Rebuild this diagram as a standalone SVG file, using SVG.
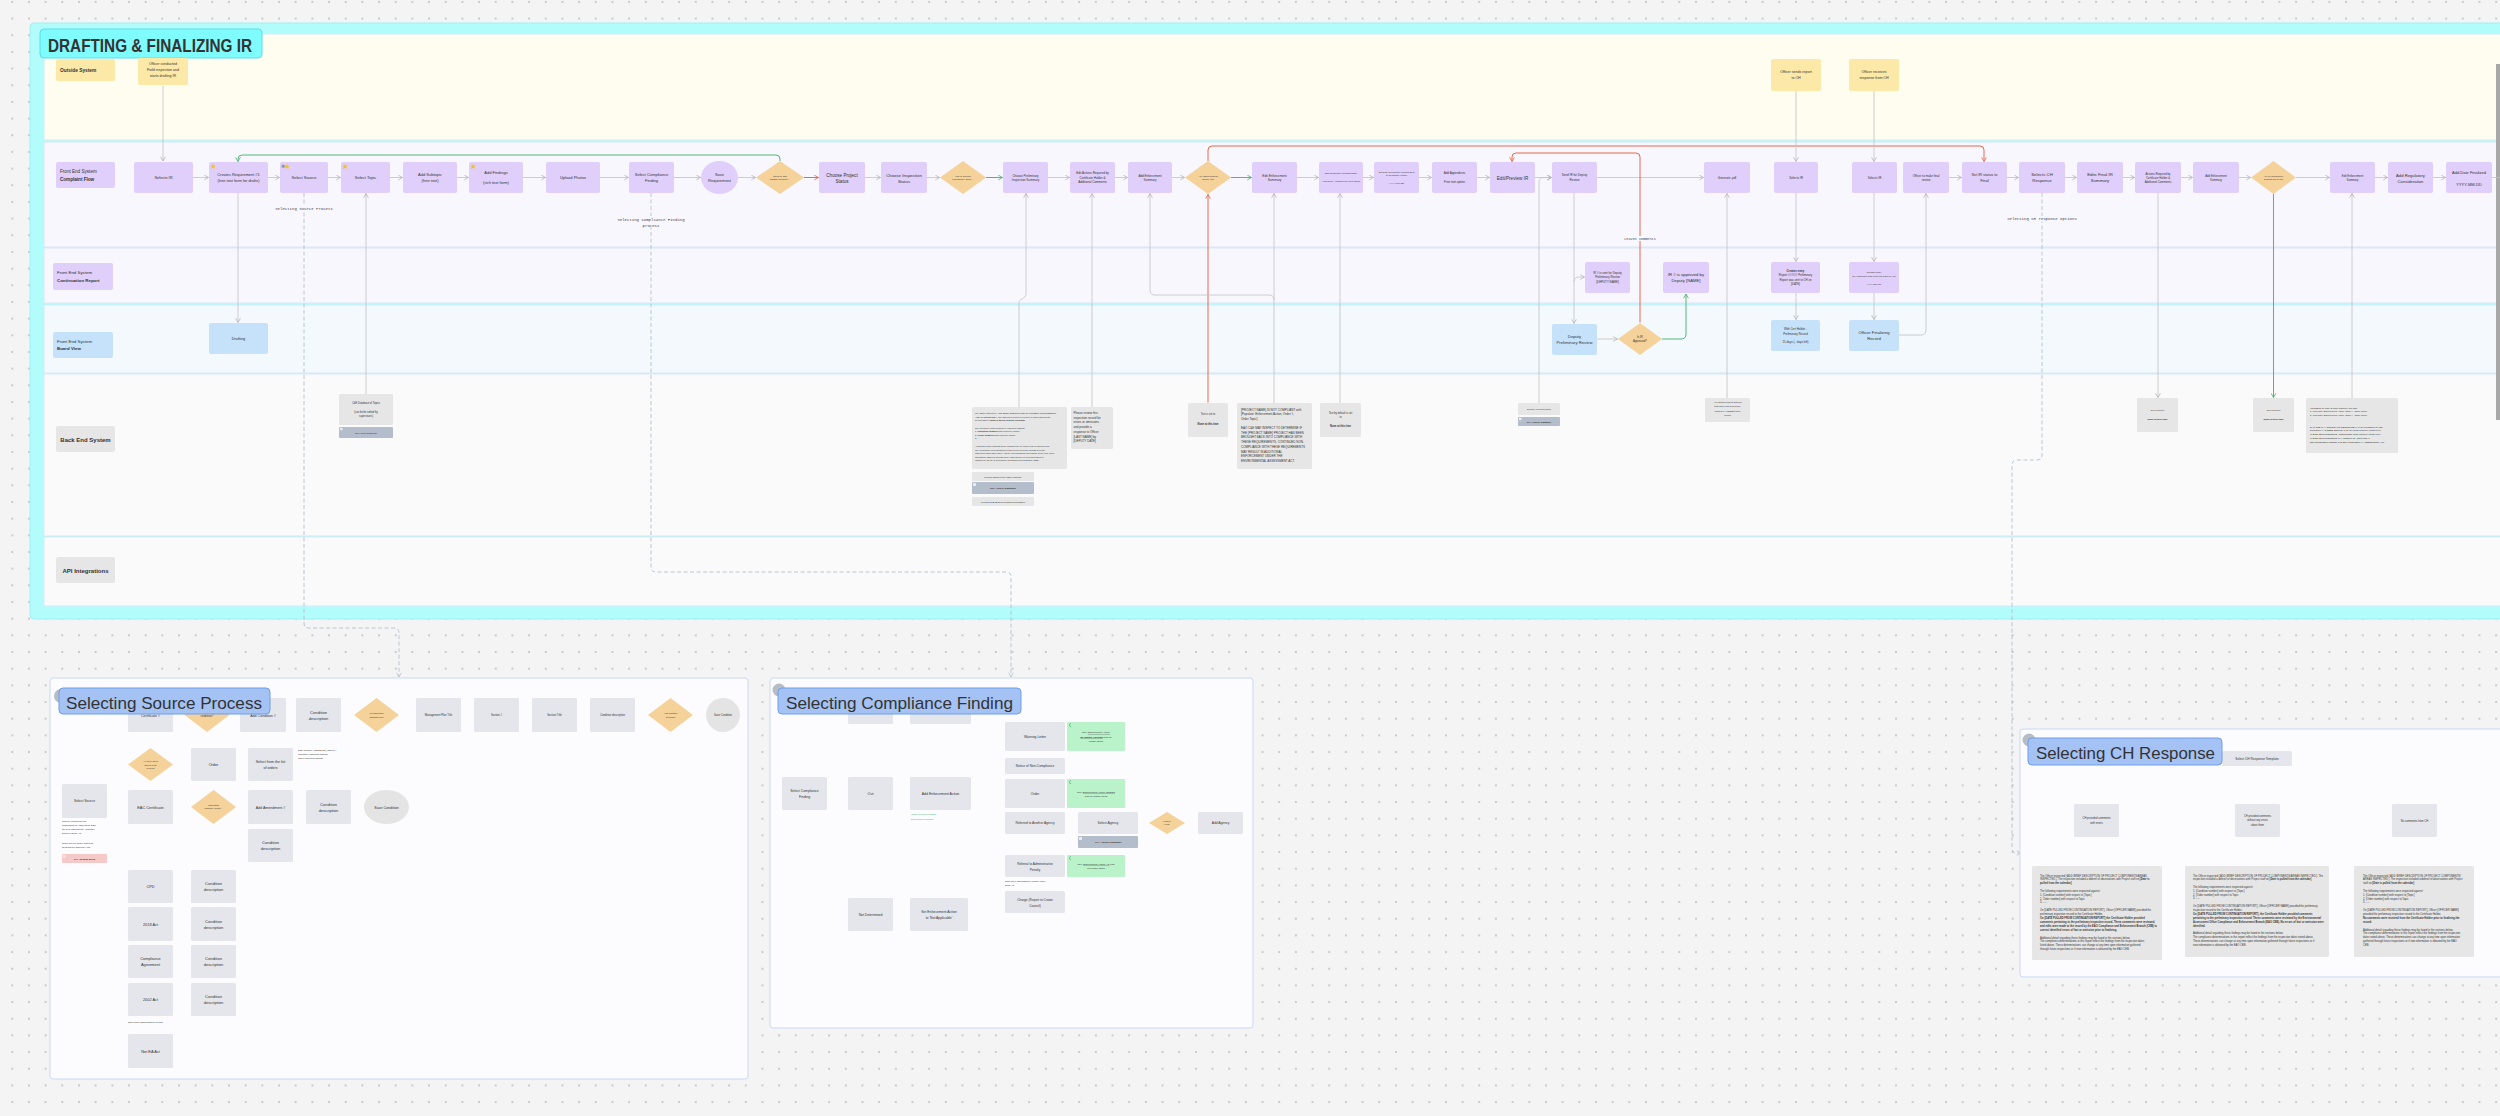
<svg xmlns="http://www.w3.org/2000/svg" width="2500" height="1116" viewBox="0 0 2500 1116">
<defs>
<pattern id="dots" x="11.3" y="0.9" width="16.67" height="16.67" patternUnits="userSpaceOnUse"><circle cx="1" cy="1" r="1" fill="#bdbdbd"/></pattern>
<marker id="a" viewBox="0 0 10 10" refX="9" refY="5" markerWidth="6" markerHeight="6" markerUnits="userSpaceOnUse" orient="auto"><path d="M2,1 L9,5 L2,9" fill="none" stroke="#b3b3b3" stroke-width="1.3"/></marker>
<marker id="ag" viewBox="0 0 10 10" refX="9" refY="5" markerWidth="6" markerHeight="6" markerUnits="userSpaceOnUse" orient="auto"><path d="M2,1 L9,5 L2,9" fill="none" stroke="#4fb874" stroke-width="1.4"/></marker>
<marker id="ar" viewBox="0 0 10 10" refX="9" refY="5" markerWidth="6" markerHeight="6" markerUnits="userSpaceOnUse" orient="auto"><path d="M2,1 L9,5 L2,9" fill="none" stroke="#e8694f" stroke-width="1.4"/></marker>
<marker id="ad" viewBox="0 0 10 10" refX="9" refY="5" markerWidth="6" markerHeight="6" markerUnits="userSpaceOnUse" orient="auto"><path d="M2,1 L9,5 L2,9" fill="none" stroke="#b4bfd3" stroke-width="1.3"/></marker>
<style>
text{font-family:"Liberation Sans",Arial,sans-serif;fill:#333}
.t{text-anchor:middle}
.m{font-family:"Liberation Mono","Courier New",monospace;text-anchor:middle;fill:#444}
.b{font-weight:bold}
.n{fill:#e0cffa}
.d{fill:#f6d29b}
.y{fill:#fce8a7}
.bl{fill:#c6e2fb}
.g{fill:#e6e6e6}
.p{fill:#e4e6ec}
.db{fill:#b3bdcc}
.gn{fill:#baf2c9}
.pk{fill:#f6c9c9}
.c{fill:none;stroke:#c2c2c2;stroke-width:0.8;marker-end:url(#a)}
.cn{fill:none;stroke:#c2c2c2;stroke-width:0.8}
.cg{fill:none;stroke:#52b877;stroke-width:1;marker-end:url(#ag)}
.cr{fill:none;stroke:#e8694f;stroke-width:1;marker-end:url(#ar)}
.cd{fill:none;stroke:#b4bfd3;stroke-width:0.9;stroke-dasharray:4 2.5;marker-end:url(#ad)}
.lane{stroke:#d6e9f6;stroke-width:1}
.panel{fill:#fcfcfe;stroke:#c9d8f6;stroke-width:1}
.ttl{fill:#a4c2f4;stroke:#6f9ee8;stroke-width:1}
.star{fill:#f3c21f}
</style>
</defs>

<rect width="2500" height="1116" fill="#f4f4f4"/>
<rect width="2500" height="1116" fill="url(#dots)"/>

<!-- main frame and lanes -->
<g id="frame">
<rect x="30" y="23" width="2490" height="596" rx="4" fill="#b3fcfc" stroke="#9ef0f3"/>
<rect class="lane" x="44" y="34" width="2470" height="106" fill="#fffdf0" stroke="#dff2e6"/>
<rect class="lane" x="44" y="142" width="2470" height="105" fill="#f9f7fe"/>
<rect class="lane" x="44" y="248" width="2470" height="55" fill="#f9f7fe"/>
<rect class="lane" x="44" y="305" width="2470" height="68" fill="#f4f9fe"/>
<rect class="lane" x="44" y="374" width="2470" height="162" fill="#fafafa" stroke="#dcf2f4"/>
<rect class="lane" x="44" y="537" width="2470" height="69" fill="#fafafa" stroke="#dcf2f4"/>
<rect x="2496" y="64" width="4" height="356" fill="#a8a8a8"/>
</g>

<g id="title-main">
<rect x="40" y="29" width="222" height="29" rx="4" fill="#7ffcfd" stroke="#58dfe9" stroke-width="1"/>
<text x="48" y="51.5" font-size="19" class="b" textLength="204" lengthAdjust="spacingAndGlyphs" fill="#111">DRAFTING &amp; FINALIZING IR</text>
</g>

<!-- lane labels -->
<g id="lane-outside"><rect class="y" x="56" y="59" width="59" height="22" rx="2"/><text x="60" y="71.5" font-size="4.8" class="b">Outside System</text></g>
<g id="lane-complaint"><rect class="n" x="56" y="162" width="59" height="26" rx="2"/><text x="60" y="173" font-size="4.6">Front  End System</text><text x="60" y="180.5" font-size="4.6" class="b">Complaint Flow</text></g>
<g id="lane-continuation"><rect class="n" x="53" y="263" width="60" height="27" rx="2"/><text x="57" y="274" font-size="4.4">Front End System</text><text x="57" y="281.5" font-size="4.4" class="b">Continuation Report</text></g>
<g id="lane-board"><rect class="bl" x="53" y="332" width="60" height="26" rx="2"/><text x="57" y="342.5" font-size="4.4">Front End System</text><text x="57" y="350" font-size="4.4" class="b">Board View</text></g>
<g id="lane-backend"><rect class="g" x="56" y="426" width="59" height="26" rx="2"/><text x="85.5" y="441.5" font-size="6" class="t b">Back End System</text></g>
<g id="lane-api"><rect class="g" x="56" y="557" width="59" height="26" rx="2"/><text x="85.5" y="572.5" font-size="6" class="t b">API Integrations</text></g>

<!-- connectors -->
<g id="connectors">
<path class="c" d="M163,86 V161"/>
<path class="c" d="M193,177.5 H208.5"/>
<path class="c" d="M268,177.5 H279.5"/>
<path class="c" d="M328,177.5 H340.5"/>
<path class="c" d="M390,177.5 H402.5"/>
<path class="c" d="M457,177.5 H468.5"/>
<path class="c" d="M523,177.5 H545.5"/>
<path class="c" d="M600,177.5 H628.5"/>
<path class="c" d="M674,177.5 H700.5"/>
<path class="c" d="M738,177.5 H755.5"/>
<path class="cr" d="M804,177.5 H818.5"/>
<path class="c" d="M865,177.5 H880.5"/>
<path class="c" d="M927,177.5 H939.5"/>
<path class="cg" d="M986,177.5 H1002.5"/>
<path class="c" d="M1048,177.5 H1069.5"/>
<path class="c" d="M1115,177.5 H1127.5"/>
<path class="c" d="M1172,177.5 H1184.5"/>
<path class="cg" d="M1231,177.5 H1251.5"/>
<path class="c" d="M1297,177.5 H1318.5"/>
<path class="c" d="M1363,177.5 H1373.5"/>
<path class="c" d="M1419,177.5 H1431.5"/>
<path class="c" d="M1477,177.5 H1489.5"/>
<path class="c" d="M1535,177.5 H1551.5"/>
<path class="c" d="M1597,177.5 H1703.5"/>
<path class="c" d="M1949,177.5 H1961.5"/>
<path class="c" d="M2007,177.5 H2018.5"/>
<path class="c" d="M2065,177.5 H2076.5"/>
<path class="c" d="M2123,177.5 H2134.5"/>
<path class="c" d="M2181,177.5 H2192.5"/>
<path class="c" d="M2239,177.5 H2250.5"/>
<path class="c" d="M2296,177.5 H2329.5"/>
<path class="c" d="M2375,177.5 H2387.5"/>
<path class="c" d="M2433,177.5 H2445.5"/>
<path class="cn" d="M2492,177.5 H2500"/>
<path class="cg" d="M780,161 V159 Q780,155 776,155 H242 Q238,155 238,159 V161.5"/>
<path class="cr" d="M1208,161 V150 Q1208,146 1212,146 H1980 Q1984,146 1984,150 V161.5"/>
<path class="cr" d="M1640,322.5 V157 Q1640,153 1636,153 H1516 Q1512,153 1512,157 V161.5"/>
<path class="cr" d="M1208,402.5 V194.5"/>
<path class="c" d="M238,193 V322.5"/>
<path class="c" d="M366,394 V193.5"/>
<path class="c" d="M1019,407 V303 C1019,298 1026,299 1026,294 V193.5"/>
<path class="c" d="M1092,407 V193.5"/>
<path class="c" d="M1274,403 V193.5"/>
<path class="c" d="M1274,300 Q1274,295 1269,295 H1155 Q1150,295 1150,290 V193.5"/>
<path class="c" d="M1340,403 V193.5"/>
<path class="c" d="M1539,403 V182 Q1539,177.5 1544,177.5 H1551.5"/>
<path class="c" d="M1574,193 V323.5"/>
<path class="c" d="M1574,282 Q1574,277 1579,277 H1584.5"/>
<path class="cg" d="M1662,339 H1681 Q1686,339 1686,334 V294"/>
<path class="c" d="M1597,339 H1617.5"/>
<path class="c" d="M1727,398 V193.5"/>
<path class="c" d="M1796,91 V161.5"/>
<path class="c" d="M1874,91 V161.5"/>
<path class="c" d="M1796,193 V261.5"/>
<path class="c" d="M1796,293 V319.5"/>
<path class="c" d="M1874,193 V261.5"/>
<path class="c" d="M1874,293 V319.5"/>
<path class="c" d="M1899,335 H1921 Q1926,335 1926,330 V193.5"/>
<path class="c" d="M2158,193 V397.5"/>
<path class="cg" d="M2273.5,194 V397.5"/>
<path class="c" d="M2352,398 V193.5"/>
<path class="cd" d="M304,193 V623 Q304,628 309,628 H394 Q399,628 399,633 V677"/>
<path class="cd" d="M651,193 V567 Q651,572 656,572 H1006 Q1011,572 1011,577 V677"/>
<path class="cd" d="M2042,193 V455 Q2042,460 2037,460 H2017 Q2012,460 2012,465 V848 Q2012,853 2017,853 H2021"/>
<!-- source panel -->
<path class="cn" d="M107,801 H118"/>
<path class="cn" d="M118,720 V1046"/>
<path class="c" d="M118,720 Q118,715 123,715 H127.5"/>
<path class="c" d="M118,769.5 Q118,764.5 123,764.5 H127.5"/>
<path class="c" d="M118,802 Q118,807 123,807 H127.5"/>
<path class="c" d="M118,881.5 Q118,886.5 123,886.5 H127.5"/>
<path class="c" d="M118,919 Q118,924 123,924 H127.5"/>
<path class="c" d="M118,956.5 Q118,961.5 123,961.5 H127.5"/>
<path class="c" d="M118,994.5 Q118,999.5 123,999.5 H127.5"/>
<path class="c" d="M118,1046 Q118,1051 123,1051 H127.5"/>
<path class="c" d="M173,715 H184.5"/>
<path class="cr" d="M229.5,715 H239.5"/>
<path class="c" d="M286,715 H295.5"/>
<path class="c" d="M341,715 H353.5"/>
<path class="cg" d="M399,715 H415.5"/>
<path class="c" d="M461,715 H473.5"/>
<path class="c" d="M519,715 H531.5"/>
<path class="c" d="M577,715 H589.5"/>
<path class="c" d="M635,715 H647.5"/>
<path class="cr" d="M693,715 H705.5"/>
<path class="cr" d="M376.5,698 V688 Q376.5,683 381.5,683 H718 Q723,683 723,688 V697.5"/>
<path class="cg" d="M670.5,698 V694 Q670.5,689 665.5,689 H501.5 Q496.5,689 496.5,694 V697.5"/>
<path class="cg" d="M173,764.5 H190.5"/>
<path class="c" d="M236,764.5 H247.5"/>
<path class="c" d="M173,807 H190.5"/>
<path class="cg" d="M236,807 H247.5"/>
<path class="c" d="M293,807 H305.5"/>
<path class="c" d="M351,807 H363.5"/>
<path class="cr" d="M213.5,824 V840.5 Q213.5,845.5 218.5,845.5 H247.5"/>
<path class="c" d="M293,845.5 H381.5 Q386.5,845.5 386.5,840.5 V824.5"/>
<path class="c" d="M173,886.5 H190.5"/>
<path class="c" d="M173,924 H190.5"/>
<path class="c" d="M173,961.5 H190.5"/>
<path class="c" d="M173,999.5 H190.5"/>
<!-- compliance panel -->
<path class="cn" d="M827,793.5 H837"/>
<path class="cn" d="M837,716 V909"/>
<path class="c" d="M837,717 Q837,712 842,712 H847.5"/>
<path class="c" d="M837,788.5 Q837,793.5 842,793.5 H847.5"/>
<path class="c" d="M837,909.5 Q837,914.5 842,914.5 H847.5"/>
<path class="c" d="M893,712 H909.5"/>
<path class="c" d="M893,793.5 H909.5"/>
<path class="c" d="M893,914.5 H909.5"/>
<path class="cn" d="M971,793.5 H988"/>
<path class="cn" d="M988,741.5 V897"/>
<path class="c" d="M988,741.5 Q988,736.5 993,736.5 H1004.5"/>
<path class="c" d="M988,771 Q988,766 993,766 H1004.5"/>
<path class="c" d="M988,793.5 H1004.5"/>
<path class="c" d="M988,818 Q988,823 993,823 H1004.5"/>
<path class="c" d="M988,861 Q988,866 993,866 H1004.5"/>
<path class="c" d="M988,897 Q988,902 993,902 H1004.5"/>
<path class="c" d="M1065,823 H1077.5"/>
<path class="c" d="M1138,823 H1148.5"/>
<path class="cr" d="M1185,823 H1197.5"/>
<!-- CH panel -->
<path class="c" d="M2257,766 V803.5"/>
<path class="c" d="M2257,781 Q2257,785 2253,785 H2101 Q2097,785 2097,789 V803.5"/>
<path class="c" d="M2257,781 Q2257,785 2261,785 H2410 Q2414,785 2414,789 V803.5"/>
<path class="c" d="M2097,866 V837.5" stroke="#dadada"/>
<path class="c" d="M2257,866 V837.5" stroke="#dadada"/>
<path class="c" d="M2414,866 V837.5" stroke="#dadada"/>
</g>

<!-- connector labels -->
<g id="connector-labels">
<rect x="273" y="205.5" width="62" height="5.5" fill="#f9f7fe"/>
<text x="304" y="209.7" font-size="4" class="m">Selecting Source Process</text>
<rect x="615" y="216" width="72" height="11.5" fill="#f9f7fe"/>
<text x="651" y="220.5" font-size="4" class="m">Selecting Compliance Finding</text>
<text x="651" y="226.5" font-size="4" class="m">process</text>
<rect x="2005" y="216" width="74" height="5.5" fill="#f9f7fe"/>
<text x="2042" y="220.3" font-size="4" class="m">Selecting CH response options</text>
<rect x="1620" y="236" width="40" height="5" fill="#f9f7fe"/>
<text x="1640" y="240" font-size="3.5" class="m">Leaves Comments</text>
</g>

<!-- Outside system nodes -->
<g id="o1"><rect class="y" x="138" y="58" width="50" height="27" rx="2"/><text class="t" font-size="3.6" x="163"><tspan x="163" y="64.5">Officer conducted</tspan><tspan x="163" y="70.5">Field inspection and</tspan><tspan x="163" y="76.5">starts drafting IR</tspan></text></g>
<g id="o2"><rect class="y" x="1771" y="59" width="50" height="32" rx="2"/><text class="t" font-size="3.6"><tspan x="1796" y="73">Officer sends report</tspan><tspan x="1796" y="79">to CH</tspan></text></g>
<g id="o3"><rect class="y" x="1849" y="59" width="50" height="32" rx="2"/><text class="t" font-size="3.6"><tspan x="1874" y="73">Officer receives</tspan><tspan x="1874" y="79">response from CH</tspan></text></g>

<!-- Complaint flow row -->
<g id="n1"><rect class="n" x="134" y="162" width="59" height="31" rx="2"/><text class="t" font-size="4" x="163.5" y="179">Selects IR</text></g>
<g id="n2"><rect class="n" x="209" y="162" width="59" height="31" rx="2"/><polygon class="star" points="213,163.5 213.8,165.4 215.8,165.5 214.3,166.8 214.8,168.8 213,167.7 211.2,168.8 211.7,166.8 210.2,165.5 212.2,165.4"/><text class="t" font-size="3.9"><tspan x="238.5" y="176">Creates Requirement #1</tspan><tspan x="238.5" y="181.5">(free text form for drafts)</tspan></text></g>
<g id="n3"><rect class="n" x="280" y="162" width="48" height="31" rx="2"/><circle cx="283.3" cy="166.2" r="1.8" fill="#9a9a9a"/><polygon class="star" points="287,163.5 287.8,165.4 289.8,165.5 288.3,166.8 288.8,168.8 287,167.7 285.2,168.8 285.7,166.8 284.2,165.5 286.2,165.4"/><text class="t" font-size="4" x="304" y="179">Select Source</text></g>
<g id="n4"><rect class="n" x="341" y="162" width="49" height="31" rx="2"/><polygon class="star" points="345,163.5 345.8,165.4 347.8,165.5 346.3,166.8 346.8,168.8 345,167.7 343.2,168.8 343.7,166.8 342.2,165.5 344.2,165.4"/><text class="t" font-size="4" x="365.5" y="179">Select Topic</text></g>
<g id="n5"><rect class="n" x="403" y="162" width="54" height="31" rx="2"/><text class="t" font-size="4"><tspan x="430" y="176">Add Subtopic</tspan><tspan x="430" y="182">(free text)</tspan></text></g>
<g id="n6"><rect class="n" x="469" y="162" width="54" height="31" rx="2"/><polygon class="star" points="473,163.5 473.8,165.4 475.8,165.5 474.3,166.8 474.8,168.8 473,167.7 471.2,168.8 471.7,166.8 470.2,165.5 472.2,165.4"/><text class="t" font-size="4"><tspan x="496" y="174">Add Findings</tspan><tspan x="496" y="183.5">(rich text form)</tspan></text></g>
<g id="n7"><rect class="n" x="546" y="162" width="54" height="31" rx="2"/><text class="t" font-size="4" x="573" y="179">Upload Photos</text></g>
<g id="n8"><rect class="n" x="629" y="162" width="45" height="31" rx="2"/><text class="t" font-size="4"><tspan x="651.5" y="176">Select Compliance</tspan><tspan x="651.5" y="182">Finding</tspan></text></g>
<g id="n9"><ellipse class="n" cx="719.5" cy="177.5" rx="18.5" ry="16.5"/><text class="t" font-size="4"><tspan x="719.5" y="176">Save</tspan><tspan x="719.5" y="182">Requirement</tspan></text></g>
<g id="n10"><polygon class="d" points="780,161 804,177.5 780,194 756,177.5"/><text class="t" font-size="2.5"><tspan x="780" y="176.5">Need to add</tspan><tspan x="780" y="180">another Require…</tspan></text></g>
<g id="n11"><rect class="n" x="819" y="162" width="46" height="31" rx="2"/><text class="t" font-size="4.6"><tspan x="842" y="176.5">Choose Project</tspan><tspan x="842" y="182.5">Status</tspan></text></g>
<g id="n12"><rect class="n" x="881" y="162" width="46" height="31" rx="2"/><text class="t" font-size="4.3"><tspan x="904" y="176.5">Choose Inspection</tspan><tspan x="904" y="182.5">Status</tspan></text></g>
<g id="n13"><polygon class="d" points="963,161 986,177.5 963,194 940,177.5"/><text class="t" font-size="2.5"><tspan x="963" y="176.5">List of Recent</tspan><tspan x="963" y="180">Preliminary Reco…</tspan></text></g>
<g id="n14"><rect class="n" x="1003" y="162" width="45" height="31" rx="2"/><text class="t" font-size="3"><tspan x="1025.5" y="176.5">Choose Preliminary</tspan><tspan x="1025.5" y="180.5">Inspection Summary</tspan></text></g>
<g id="n15"><rect class="n" x="1070" y="162" width="45" height="31" rx="2"/><text class="t" font-size="3"><tspan x="1092.5" y="174">Edit Actions Required by</tspan><tspan x="1092.5" y="178.5">Certificate Holder &amp;</tspan><tspan x="1092.5" y="183">Additional Comments</tspan></text></g>
<g id="n16"><rect class="n" x="1128" y="162" width="44" height="31" rx="2"/><text class="t" font-size="3"><tspan x="1150" y="176.5">Add Enforcement</tspan><tspan x="1150" y="180.5">Summary</tspan></text></g>
<g id="n17"><polygon class="d" points="1208,161 1231,177.5 1208,194 1185,177.5"/><text class="t" font-size="2.5"><tspan x="1208" y="176.5">Any Enforcement</tspan><tspan x="1208" y="180">before IR?</tspan></text></g>
<g id="n18"><rect class="n" x="1252" y="162" width="45" height="31" rx="2"/><text class="t" font-size="3.2"><tspan x="1274.5" y="176.5">Edit Enforcement</tspan><tspan x="1274.5" y="181">Summary</tspan></text></g>
<g id="n19"><rect class="n" x="1319" y="162" width="44" height="31" rx="2"/><text class="t" font-size="2.4"><tspan x="1341" y="174">Edit Regulatory Consideration</tspan><tspan x="1341" y="181.5">Auto-build + optional free text option</tspan></text></g>
<g id="n20"><rect class="n" x="1374" y="162" width="45" height="31" rx="2"/><text class="t" font-size="2.4"><tspan x="1396.5" y="172.5">Set Date Preliminary Record Sent</tspan><tspan x="1396.5" y="176">to Certificate Holder</tspan><tspan x="1396.5" y="183.5">YYYY-MM-DD</tspan></text></g>
<g id="n21"><rect class="n" x="1432" y="162" width="45" height="31" rx="2"/><text class="t" font-size="3"><tspan x="1454.5" y="174">Add Appendices</tspan><tspan x="1454.5" y="183">Free text option</tspan></text></g>
<g id="n22"><rect class="n" x="1490" y="162" width="45" height="31" rx="2"/><text class="t" font-size="4.6" x="1512.5" y="179.5">Edit/Preview IR</text></g>
<g id="n23"><rect class="n" x="1552" y="162" width="45" height="31" rx="2"/><text class="t" font-size="3"><tspan x="1574.5" y="176">Send IR for Deputy</tspan><tspan x="1574.5" y="180.5">Review</tspan></text></g>
<g id="n24"><rect class="n" x="1704" y="162" width="46" height="31" rx="2"/><text class="t" font-size="3" x="1727" y="178.5">Generate .pdf</text></g>
<g id="n25"><rect class="n" x="1774" y="162" width="44" height="31" rx="2"/><text class="t" font-size="3" x="1796" y="178.5">Selects IR</text></g>
<g id="n26"><rect class="n" x="1852" y="162" width="45" height="31" rx="2"/><text class="t" font-size="3" x="1874.5" y="178.5">Selects IR</text></g>
<g id="n27"><rect class="n" x="1903" y="162" width="46" height="31" rx="2"/><text class="t" font-size="3"><tspan x="1926" y="176.5">Officer to make final</tspan><tspan x="1926" y="180.5">review</tspan></text></g>
<g id="n28"><rect class="n" x="1962" y="162" width="45" height="31" rx="2"/><text class="t" font-size="3.8"><tspan x="1984.5" y="176">Set IR status to</tspan><tspan x="1984.5" y="181.5">'Final'</tspan></text></g>
<g id="n29"><rect class="n" x="2019" y="162" width="46" height="31" rx="2"/><text class="t" font-size="4.3"><tspan x="2042" y="176">Selects CH</tspan><tspan x="2042" y="182">Response</tspan></text></g>
<g id="n30"><rect class="n" x="2077" y="162" width="46" height="31" rx="2"/><text class="t" font-size="4.3"><tspan x="2100" y="176">Edits Final IR</tspan><tspan x="2100" y="182">Summary</tspan></text></g>
<g id="n31"><rect class="n" x="2135" y="162" width="46" height="31" rx="2"/><text class="t" font-size="2.8"><tspan x="2158" y="174.5">Actions Required by</tspan><tspan x="2158" y="178.5">Certificate Holder &amp;</tspan><tspan x="2158" y="182.5">Additional Comments</tspan></text></g>
<g id="n32"><rect class="n" x="2193" y="162" width="46" height="31" rx="2"/><text class="t" font-size="2.8"><tspan x="2216" y="176.5">Add Enforcement</tspan><tspan x="2216" y="180.5">Summary</tspan></text></g>
<g id="n33"><polygon class="d" points="2273.5,161 2296,177.5 2273.5,194 2251,177.5"/><text class="t" font-size="2.4"><tspan x="2273.5" y="176.5">Are all compliance</tspan><tspan x="2273.5" y="180">findings set to IN?</tspan></text></g>
<g id="n34"><rect class="n" x="2330" y="162" width="45" height="31" rx="2"/><text class="t" font-size="2.8"><tspan x="2352.5" y="176.5">Edit Enforcement</tspan><tspan x="2352.5" y="180.5">Summary</tspan></text></g>
<g id="n35"><rect class="n" x="2388" y="162" width="45" height="31" rx="2"/><text class="t" font-size="4.2"><tspan x="2410.5" y="176.5">Add Regulatory</tspan><tspan x="2410.5" y="182.5">Consideration</tspan></text></g>
<g id="n36"><rect class="n" x="2446" y="162" width="46" height="31" rx="2"/><text class="t" font-size="4"><tspan x="2469" y="173.5">Add Date Finalized</tspan><tspan x="2469" y="185.5">YYYY-MM-DD</tspan></text></g>

<!-- Continuation report lane -->
<g id="c1"><rect class="n" x="1585" y="262" width="45" height="31" rx="2"/><text class="t" font-size="2.9"><tspan x="1607.5" y="273.5">IR # is sent for Deputy</tspan><tspan x="1607.5" y="278">Preliminary Review</tspan><tspan x="1607.5" y="282.5">[DEPUTY NAME]</tspan></text></g>
<g id="c2"><rect class="n" x="1663" y="262" width="46" height="31" rx="2"/><text class="t" font-size="4.2"><tspan x="1686" y="276">IR # is approved by</tspan><tspan x="1686" y="282">Deputy [NAME]</tspan></text></g>
<g id="c3"><rect class="n" x="1771" y="262" width="49" height="31" rx="2"/><text class="t" font-size="2.8"><tspan x="1795.5" y="271.5" class="b">Creates entry</tspan><tspan x="1795.5" y="276">Report ###### Preliminary</tspan><tspan x="1795.5" y="280.5">Report was sent to CH on</tspan><tspan x="1795.5" y="285">[DATE]</tspan></text></g>
<g id="c4"><rect class="n" x="1849" y="262" width="50" height="31" rx="2"/><text class="t" font-size="2.5"><tspan x="1874" y="272.5">Creates entry</tspan><tspan x="1874" y="276.5">CH response was received from CH on</tspan><tspan x="1874" y="284.5">yyyy-mm-dd</tspan></text></g>

<!-- Board view lane -->
<g id="b1"><rect class="bl" x="209" y="323" width="59" height="31" rx="2"/><text class="t" font-size="3.8" x="238.5" y="340">Drafting</text></g>
<g id="b2"><rect class="bl" x="1552" y="324" width="45" height="31" rx="2"/><text class="t" font-size="4.2"><tspan x="1574.5" y="337.5">Deputy</tspan><tspan x="1574.5" y="343.5">Preliminary Review</tspan></text></g>
<g id="b3"><polygon class="d" points="1640,323 1662,339 1640,355 1618,339"/><text class="t" font-size="2.9"><tspan x="1640" y="338">Is IR</tspan><tspan x="1640" y="342">Approved?</tspan></text></g>
<g id="b4"><rect class="bl" x="1771" y="320" width="49" height="31" rx="2"/><text class="t" font-size="2.9"><tspan x="1795.5" y="330">With Cert Holder -</tspan><tspan x="1795.5" y="334.5">Preliminary Record</tspan><tspan x="1795.5" y="343">15 days (.. days left)</tspan></text></g>
<g id="b5"><rect class="bl" x="1849" y="320" width="50" height="31" rx="2"/><text class="t" font-size="4.2"><tspan x="1874" y="334">Officer Finalizing</tspan><tspan x="1874" y="340">Record</tspan></text></g>

<!-- Back end lane -->
<g id="be1"><rect class="g" x="339" y="394" width="54" height="31" rx="1.5"/><text class="t" font-size="2.6"><tspan x="366" y="404">C&amp;E Database of Topics</tspan><tspan x="366" y="412.5">(can be be edited by</tspan><tspan x="366" y="416.5">supervisors)</tspan></text><rect class="db" x="339" y="427" width="54" height="11" rx="1"/><rect x="340" y="427.8" width="2.5" height="2.5" fill="#e8ecf2"/><text class="t" font-size="2.4" x="366" y="433.5">See: Topic Database</text></g>
<g id="be2"><rect class="g" x="972" y="407" width="95" height="62" rx="1.5"/><text font-size="2.2"><tspan x="975" y="414">The Officer inspected [ ADD BRIEF DESCRIPTION OF PROJECT COMPONENTS/</tspan><tspan x="975" y="417.6">AREAS INSPECTED ]. The inspection included a debrief of observations with</tspan><tspan x="975" y="421.2">Project staff on <tspan class="b">[Date is pulled from the calendar]</tspan>.</tspan><tspan x="975" y="428.5">The following requirements were inspected against:</tspan><tspan x="975" y="432.1">1. <tspan class="b">[Condition number]</tspan> with respect to [Topic]</tspan><tspan x="975" y="435.7">2. <tspan class="b">[Order number]</tspan> with respect to [Topic]</tspan><tspan x="975" y="439.3">3. ...</tspan><tspan x="975" y="447">Additional detail regarding these findings may be found in the sections below.</tspan><tspan x="975" y="450.6">The compliance determinations in this report reflect the findings from the</tspan><tspan x="975" y="454.2">inspection dates listed above. These determinations can change at any time upon</tspan><tspan x="975" y="457.8">information gathered through future inspections or if new information is</tspan><tspan x="975" y="461.4">obtained by the EAO Compliance and Enforcement Branch (CEB).</tspan></text>
<rect class="g" x="972" y="472" width="62" height="9" rx="1"/><text class="t" font-size="2.5" x="1003" y="477.5">Pulling Officer's full name and title</text>
<rect class="db" x="972" y="482" width="62" height="12" rx="1"/><rect x="973" y="483" width="3" height="3" fill="#e8ecf2"/><text class="t b" font-size="2.5" x="1003" y="489">See: Officer Database</text>
<rect class="g" x="972" y="497" width="62" height="9" rx="1"/><text class="t" font-size="2.5" x="1003" y="502.5">Pulling C&amp;E Branch contact information</text></g>
<g id="be3"><rect class="g" x="1071" y="407" width="42" height="42" rx="1.5"/><text font-size="3"><tspan x="1073.5" y="414">Please review this</tspan><tspan x="1073.5" y="418.7">inspection record for</tspan><tspan x="1073.5" y="423.4">errors or omissions</tspan><tspan x="1073.5" y="428.1">and provide a</tspan><tspan x="1073.5" y="432.8">response to Officer</tspan><tspan x="1073.5" y="437.5">[LAST NAME] by</tspan><tspan x="1073.5" y="442.2">[DEPUTY DATE]</tspan></text></g>
<g id="be4"><rect class="g" x="1188" y="403" width="40" height="34" rx="1.5"/><text class="t" font-size="2.6"><tspan x="1208" y="415">Text is set to</tspan><tspan x="1208" y="424.5" class="b">None at this time</tspan></text></g>
<g id="be5"><rect class="g" x="1237" y="403" width="75" height="66" rx="1.5"/><text font-size="3"><tspan x="1241" y="410.5">[PROJECT NAME] IS NOT COMPLIANT with</tspan><tspan x="1241" y="415.2">[Populate: Enforcement Action, Order #,</tspan><tspan x="1241" y="419.9">Order Topic]</tspan><tspan x="1241" y="429">EAO C&amp;E MAY INSPECT TO DETERMINE IF</tspan><tspan x="1241" y="433.7">THE [PROJECT NAME] PROJECT HAS BEEN</tspan><tspan x="1241" y="438.4">BROUGHT BACK INTO COMPLIANCE WITH</tspan><tspan x="1241" y="443.1">THESE REQUIREMENTS. CONTINUED NON-</tspan><tspan x="1241" y="447.8">COMPLIANCE WITH THESE REQUIREMENTS</tspan><tspan x="1241" y="452.5">MAY RESULT IN ADDITIONAL</tspan><tspan x="1241" y="457.2">ENFORCEMENT UNDER THE</tspan><tspan x="1241" y="461.9">ENVIRONMENTAL ASSESSMENT ACT.</tspan></text></g>
<g id="be6"><rect class="g" x="1320" y="403" width="41" height="34" rx="1.5"/><text class="t" font-size="2.6"><tspan x="1340.5" y="413.5">Text by default is set</tspan><tspan x="1340.5" y="417.5">to</tspan><tspan x="1340.5" y="427" class="b">None at this time</tspan></text></g>
<g id="be7"><rect class="g" x="1518" y="403" width="42" height="12" rx="1.5"/><text class="t" font-size="2.5" x="1539" y="410">Deputy is preselected</text><rect class="db" x="1518" y="417" width="42" height="9" rx="1"/><rect x="1519" y="417.8" width="2.5" height="2.5" fill="#e8ecf2"/><text class="t" font-size="2.4" x="1539" y="422.6">See: <tspan class="b">Officer Database</tspan></text></g>
<g id="be8"><rect class="g" x="1705" y="398" width="45" height="24" rx="1.5"/><text class="t" font-size="2.5"><tspan x="1727.5" y="403">Any Enforcement actions</tspan><tspan x="1727.5" y="407.3">that were not previously</tspan><tspan x="1727.5" y="411.6">issued in HIDDEN from</tspan><tspan x="1727.5" y="415.9">report</tspan></text></g>
<g id="be9"><rect class="g" x="2137" y="398" width="41" height="34" rx="1.5"/><text class="t" font-size="2.5"><tspan x="2157.5" y="410.5">Text is set to</tspan><tspan x="2157.5" y="419.5" class="b">None at this time</tspan></text></g>
<g id="be10"><rect class="g" x="2253" y="398" width="41" height="34" rx="1.5"/><text class="t" font-size="2.5"><tspan x="2273.5" y="410.5">Text is set to</tspan><tspan x="2273.5" y="419.5" class="b">None at this time</tspan></text></g>
<g id="be11"><rect class="g" x="2306" y="398" width="92" height="55" rx="1.5"/><text font-size="2.35"><tspan x="2310" y="408.5">[PROJECT NAME] IS NOT COMPLIANT with:</tspan><tspan x="2310" y="412.3">1. [Populate: Enforcement Action, Order #, Order Topic]</tspan><tspan x="2310" y="416.1">2. [Populate: Enforcement Action, Order #, Order Topic]</tspan><tspan x="2310" y="419.9">....</tspan><tspan x="2310" y="427.6">EAO C&amp;E MAY INSPECT TO DETERMINE IF THE [PROJECT NAME]</tspan><tspan x="2310" y="431.4">PROJECT HAS BEEN BROUGHT BACK INTO COMPLIANCE WITH</tspan><tspan x="2310" y="435.2">THESE REQUIREMENTS. CONTINUED NON-COMPLIANCE WITH</tspan><tspan x="2310" y="439">THESE REQUIREMENTS MAY RESULT IN ADDITIONAL</tspan><tspan x="2310" y="442.8">ENFORCEMENT UNDER THE ENVIRONMENTAL ASSESSMENT ACT.</tspan></text></g>

<!-- Selecting Source Process panel -->
<g id="panel-source">
<rect class="panel" x="50" y="678" width="698" height="401" rx="3"/>
<g id="s-cert"><rect class="p" x="128" y="698" width="45" height="34" rx="1.5"/><text class="t" font-size="3.6" x="150.5" y="716.5">Certificate #</text></g>
<g id="s-d1"><polygon class="d" points="207,698 229.5,715 207,732 184.5,715"/><text class="t" font-size="2.6"><tspan x="207" y="712">Inspecting against</tspan><tspan x="207" y="717">conditions?</tspan></text></g>
<g id="s-addcond"><rect class="p" x="240" y="698" width="46" height="34" rx="1.5"/><text class="t" font-size="3.6" x="263" y="716.5">Add Condition #</text></g>
<g id="s-cd1"><rect class="p" x="296" y="698" width="45" height="34" rx="1.5"/><text class="t" font-size="4"><tspan x="318.5" y="713.5">Condition</tspan><tspan x="318.5" y="719.5">description</tspan></text></g>
<g id="s-d2"><polygon class="d" points="376.5,698 399,715 376.5,732 354,715"/><text class="t" font-size="2.5"><tspan x="376.5" y="713.5">Is inspection</tspan><tspan x="376.5" y="717.5">against MP?</tspan></text></g>
<g id="s-mp"><rect class="p" x="416" y="698" width="45" height="34" rx="1.5"/><text class="t" font-size="2.7" x="438.5" y="716">Management Plan Title</text></g>
<g id="s-sec"><rect class="p" x="474" y="698" width="45" height="34" rx="1.5"/><text class="t" font-size="2.7" x="496.5" y="716">Section #</text></g>
<g id="s-sect"><rect class="p" x="532" y="698" width="45" height="34" rx="1.5"/><text class="t" font-size="2.7" x="554.5" y="716">Section Title</text></g>
<g id="s-cd2"><rect class="p" x="590" y="698" width="45" height="34" rx="1.5"/><text class="t" font-size="2.7" x="612.5" y="716">Condition description</text></g>
<g id="s-d3"><polygon class="d" points="670.5,698 693,715 670.5,732 648,715"/><text class="t" font-size="2.5"><tspan x="670.5" y="713.5">Add another</tspan><tspan x="670.5" y="717.5">section?</tspan></text></g>
<g id="s-save1"><ellipse cx="723" cy="715" rx="17" ry="17" fill="#e4e4e4"/><text class="t" font-size="2.7" x="723" y="716">Save Condition</text></g>
<g id="s-d4"><polygon class="d" points="150.5,748 173,764.5 150.5,781 128,764.5"/><text class="t" font-size="2.2"><tspan x="150.5" y="762">Are there Open</tspan><tspan x="150.5" y="765.5">Orders in the</tspan><tspan x="150.5" y="769">Project?</tspan></text></g>
<g id="s-order"><rect class="p" x="191" y="748" width="45" height="33" rx="1.5"/><text class="t" font-size="3.8" x="213.5" y="766">Order</text></g>
<g id="s-list"><rect class="p" x="248" y="748" width="45" height="33" rx="1.5"/><text class="t" font-size="3.6"><tspan x="270.5" y="762.5">Select from the list</tspan><tspan x="270.5" y="768.5">of orders</tspan></text></g>
<text font-size="2.4"><tspan x="298" y="751">Date Number | DD/DD/DD_ZRM01 |</tspan><tspan x="298" y="755">Condition Inspected against</tspan><tspan x="298" y="759">Topic Inspected against</tspan></text>
<g id="s-source"><rect class="p" x="62" y="784" width="45" height="34" rx="1.5"/><text class="t" font-size="3.4" x="84.5" y="802">Select Source</text></g>
<text font-size="2.5"><tspan x="62" y="821.5">Source options will be</tspan><tspan x="62" y="825.8">determined by Inspection Date</tspan><tspan x="62" y="830.1">for field inspections - whether</tspan><tspan x="62" y="834.4">2002 or 2018 Act.</tspan><tspan x="62" y="843.5">Order will be under different</tspan><tspan x="62" y="847.8">sections for different Acts</tspan></text>
<g id="s-rules"><rect class="pk" x="62" y="854" width="45" height="9" rx="1"/><rect x="63" y="855" width="2.5" height="2.5" fill="#fbe5e5"/><text class="t" font-size="2.4" x="84.5" y="859.6">See: <tspan class="b">System Rules</tspan></text></g>
<g id="s-eac"><rect class="p" x="128" y="790" width="45" height="34" rx="1.5"/><text class="t" font-size="3.9" x="150.5" y="808.5">EAC Certificate</text></g>
<g id="s-d5"><polygon class="d" points="213.5,790 236,807 213.5,824 191,807"/><text class="t" font-size="2.4"><tspan x="213.5" y="805.5">Inspecting</tspan><tspan x="213.5" y="809">against Amend...</tspan></text></g>
<g id="s-amend"><rect class="p" x="248" y="790" width="45" height="34" rx="1.5"/><text class="t" font-size="3.6" x="270.5" y="808.5">Add Amendment #</text></g>
<g id="s-cd3"><rect class="p" x="306" y="790" width="45" height="34" rx="1.5"/><text class="t" font-size="4"><tspan x="328.5" y="805.5">Condition</tspan><tspan x="328.5" y="811.5">description</tspan></text></g>
<g id="s-save2"><ellipse cx="386.5" cy="807" rx="22.5" ry="17" fill="#e4e4e4"/><text class="t" font-size="3.6" x="386.5" y="808.5">Save Condition</text></g>
<g id="s-cd4"><rect class="p" x="248" y="829" width="45" height="33" rx="1.5"/><text class="t" font-size="4"><tspan x="270.5" y="844">Condition</tspan><tspan x="270.5" y="850">description</tspan></text></g>
<g id="s-cpd"><rect class="p" x="128" y="870" width="45" height="33" rx="1.5"/><text class="t" font-size="3.9" x="150.5" y="888">CPD</text></g>
<g id="s-cd5"><rect class="p" x="191" y="870" width="45" height="33" rx="1.5"/><text class="t" font-size="4"><tspan x="213.5" y="885">Condition</tspan><tspan x="213.5" y="891">description</tspan></text></g>
<g id="s-2018"><rect class="p" x="128" y="907" width="45" height="34" rx="1.5"/><text class="t" font-size="3.9" x="150.5" y="925.5">2018 Act</text></g>
<g id="s-cd6"><rect class="p" x="191" y="907" width="45" height="34" rx="1.5"/><text class="t" font-size="4"><tspan x="213.5" y="922.5">Condition</tspan><tspan x="213.5" y="928.5">description</tspan></text></g>
<g id="s-ca"><rect class="p" x="128" y="945" width="45" height="33" rx="1.5"/><text class="t" font-size="3.9"><tspan x="150.5" y="960">Compliance</tspan><tspan x="150.5" y="966">Agreement</tspan></text></g>
<g id="s-cd7"><rect class="p" x="191" y="945" width="45" height="33" rx="1.5"/><text class="t" font-size="4"><tspan x="213.5" y="960">Condition</tspan><tspan x="213.5" y="966">description</tspan></text></g>
<g id="s-2002"><rect class="p" x="128" y="983" width="45" height="33" rx="1.5"/><text class="t" font-size="3.9" x="150.5" y="1001">2002 Act</text></g>
<g id="s-cd8"><rect class="p" x="191" y="983" width="45" height="33" rx="1.5"/><text class="t" font-size="4"><tspan x="213.5" y="998">Condition</tspan><tspan x="213.5" y="1004">description</tspan></text></g>
<text font-size="2.4" x="128" y="1023">didn't have administrative penalty</text>
<g id="s-notea"><rect class="p" x="128" y="1034" width="45" height="34" rx="1.5"/><text class="t" font-size="3.9" x="150.5" y="1052.5">Not EA Act</text></g>
<circle cx="61" cy="696" r="7" fill="#b8bcc4"/>
<rect class="ttl" x="59" y="688" width="211" height="26" rx="4"/>
<text x="66" y="709" font-size="17" textLength="196" lengthAdjust="spacingAndGlyphs" fill="#111">Selecting Source Process</text>
</g>

<!-- Selecting Compliance Finding panel -->
<g id="panel-compliance">
<rect class="panel" x="770" y="678" width="483" height="350" rx="3"/>
<rect class="p" x="848" y="700" width="45" height="24" rx="1.5"/>
<rect class="p" x="910" y="700" width="61" height="24" rx="1.5"/>
<g id="cf-select"><rect class="p" x="782" y="777" width="45" height="33" rx="1.5"/><text class="t" font-size="3.4"><tspan x="804.5" y="792">Select Compliance</tspan><tspan x="804.5" y="797.5">Finding</tspan></text></g>
<g id="cf-out"><rect class="p" x="848" y="777" width="45" height="33" rx="1.5"/><text class="t" font-size="3.6" x="870.5" y="795">Out</text></g>
<g id="cf-add"><rect class="p" x="910" y="777" width="61" height="33" rx="1.5"/><text class="t" font-size="3.5" x="940.5" y="795">Add Enforcement Action</text></g>
<text font-size="2.4" style="fill:#3bb36a"><tspan x="911" y="815">(ability to select multiple</tspan><tspan x="911" y="819.5">Enforcement actions)</tspan></text>
<g id="cf-warn"><rect class="p" x="1005" y="722" width="60" height="29" rx="1.5"/><text class="t" font-size="3.4" x="1035" y="738">Warning Letter</text></g>
<g id="cf-warn-n"><rect class="gn" x="1067" y="722" width="58" height="29" rx="1"/><path d="M1071,723.5 a1.6,1.6 0 1 0 0.1,3.2" fill="none" stroke="#3cae60" stroke-width="0.6"/><text class="t" font-size="2.5"><tspan x="1096" y="733">See: <tspan text-decoration="underline">Enforcement Action:</tspan></tspan><tspan x="1096" y="737.5"><tspan text-decoration="underline" class="b">WARNING LETTER</tspan> flow for</tspan><tspan x="1096" y="742">further steps</tspan></text></g>
<g id="cf-notice"><rect class="p" x="1005" y="758" width="60" height="16" rx="1.5"/><text class="t" font-size="3.3" x="1035" y="767.2">Notice of Non-Compliance</text></g>
<g id="cf-order"><rect class="p" x="1005" y="779" width="60" height="29" rx="1.5"/><text class="t" font-size="3.4" x="1035" y="795">Order</text></g>
<g id="cf-order-n"><rect class="gn" x="1067" y="779" width="58" height="29" rx="1"/><path d="M1071,780.5 a1.6,1.6 0 1 0 0.1,3.2" fill="none" stroke="#3cae60" stroke-width="0.6"/><text class="t" font-size="2.5"><tspan x="1096" y="792.5">See: <tspan text-decoration="underline">Enforcement Action: ORDER</tspan></tspan><tspan x="1096" y="797">flow for further steps</tspan></text></g>
<g id="cf-ref"><rect class="p" x="1005" y="812" width="60" height="22" rx="1.5"/><text class="t" font-size="3.2" x="1035" y="824.2">Referred to Another Agency</text></g>
<g id="cf-agency"><rect class="p" x="1078" y="812" width="60" height="22" rx="1.5"/><text class="t" font-size="3.3" x="1108" y="824.2">Select Agency</text><rect class="db" x="1078" y="836" width="60" height="12" rx="1"/><rect x="1079" y="837" width="3" height="3" fill="#e8ecf2"/><text class="t" font-size="2.5" x="1108" y="843">See: <tspan class="b">Agency Database</tspan></text></g>
<g id="cf-d"><polygon class="d" points="1167,812 1185,823 1167,834 1149,823"/><text class="t" font-size="1.9"><tspan x="1167" y="822">Is agency</tspan><tspan x="1167" y="825">in list?</tspan></text></g>
<g id="cf-addag"><rect class="p" x="1198" y="812" width="45" height="22" rx="1.5"/><text class="t" font-size="3.3" x="1220.5" y="824.2">Add Agency</text></g>
<g id="cf-ap"><rect class="p" x="1005" y="855" width="60" height="22" rx="1.5"/><text class="t" font-size="3.2"><tspan x="1035" y="864.5">Referral to Administrative</tspan><tspan x="1035" y="870.5">Penalty</tspan></text></g>
<g id="cf-ap-n"><rect class="gn" x="1067" y="855" width="58" height="22" rx="1"/><path d="M1071,856.5 a1.6,1.6 0 1 0 0.1,3.2" fill="none" stroke="#3cae60" stroke-width="0.6"/><text class="t" font-size="2.5"><tspan x="1096" y="864.5">See: <tspan text-decoration="underline">Enforcement Action: AP</tspan> flow</tspan><tspan x="1096" y="869">for further steps</tspan></text></g>
<text font-size="2.3"><tspan x="1005" y="881.5">didn't have administrative penalty under</tspan><tspan x="1005" y="885.5">2002 Act</tspan></text>
<g id="cf-charge"><rect class="p" x="1005" y="891" width="60" height="22" rx="1.5"/><text class="t" font-size="3.2"><tspan x="1035" y="900.5">Charge (Report to Crown</tspan><tspan x="1035" y="906.5">Council)</tspan></text></g>
<g id="cf-nd"><rect class="p" x="848" y="898" width="45" height="33" rx="1.5"/><text class="t" font-size="3.4" x="870.5" y="916">Not Determined</text></g>
<g id="cf-na"><rect class="p" x="910" y="898" width="58" height="33" rx="1.5"/><text class="t" font-size="3.4"><tspan x="939" y="913">Set Enforcement Action</tspan><tspan x="939" y="919">to 'Not Applicable'</tspan></text></g>
<circle cx="779" cy="690" r="6.5" fill="#b8bcc4"/>
<rect class="ttl" x="778" y="688" width="243" height="26" rx="4"/>
<text x="786" y="709" font-size="17" textLength="227" lengthAdjust="spacingAndGlyphs" fill="#111">Selecting Compliance Finding</text>
</g>

<!-- Selecting CH Response panel -->
<g id="panel-ch">
<rect class="panel" x="2020" y="729" width="490" height="248" rx="3"/>
<g id="ch-tpl"><rect class="p" x="2222" y="751" width="70" height="15" rx="1.5"/><text class="t" font-size="3.2" x="2257" y="759.8">Select CH Response Template</text></g>
<g id="ch-1"><rect class="p" x="2074" y="804" width="45" height="33" rx="1.5"/><text class="t" font-size="2.7"><tspan x="2096.5" y="819">CH provided comments</tspan><tspan x="2096.5" y="823.5">with errors</tspan></text></g>
<g id="ch-2"><rect class="p" x="2235" y="804" width="45" height="33" rx="1.5"/><text class="t" font-size="2.6"><tspan x="2257.5" y="817">CH provided comments</tspan><tspan x="2257.5" y="821.3">without any errors</tspan><tspan x="2257.5" y="825.6">about them</tspan></text></g>
<g id="ch-3"><rect class="p" x="2392" y="804" width="45" height="33" rx="1.5"/><text class="t" font-size="2.7" x="2414.5" y="821.5">No comments from CH</text></g>
<g id="ch-t1"><rect class="g" x="2032" y="866" width="130" height="94" rx="1.5"/><text font-size="2.65"><tspan x="2040" y="876.5">The Officer inspected [ ADD BRIEF DESCRIPTION OF PROJECT COMPONENTS/AREAS</tspan><tspan x="2040" y="880.4">INSPECTED ]. The inspection included a debrief of observations with Project staff on <tspan class="b">[Date is</tspan></tspan><tspan x="2040" y="884.3" class="b">pulled from the calendar]</tspan><tspan x="2040" y="892">The following requirements were inspected against:</tspan><tspan x="2040" y="895.8">1. [Condition number] with respect to [Topic]</tspan><tspan x="2040" y="899.6">2. Order number] with respect to Topic</tspan><tspan x="2040" y="903.4">3. .....</tspan><tspan x="2040" y="911">On [DATE PULLED FROM CONTINUATION REPORT], Officer [OFFICER NAME] provided the</tspan><tspan x="2040" y="914.9">preliminary inspection record to the Certificate Holder.</tspan><tspan x="2040" y="918.8" class="b">On [DATE PULLED FROM CONTINUATION REPORT] the Certificate Holder provided</tspan><tspan x="2040" y="922.7" class="b">comments pertaining to the preliminary inspection record. These comments were reviewed,</tspan><tspan x="2040" y="926.6" class="b">and edits were made to the record by the EAO Compliance and Enforcement Branch (CEB) to</tspan><tspan x="2040" y="930.5" class="b">correct identified errors of fact or omission prior to finalizing.</tspan><tspan x="2040" y="938.5">Additional detail regarding these findings may be found in the sections below.</tspan><tspan x="2040" y="942.4">The compliance determinations in this report reflect the findings from the inspection dates</tspan><tspan x="2040" y="946.3">listed above. These determinations can change at any time upon information gathered</tspan><tspan x="2040" y="950.2">through future inspections or if new information is obtained by the EAO CEB.</tspan></text></g>
<g id="ch-t2"><rect class="g" x="2185" y="866" width="144" height="91" rx="1.5"/><text font-size="2.65"><tspan x="2193" y="876.5">The Officer inspected [ ADD BRIEF DESCRIPTION OF PROJECT COMPONENTS/AREAS INSPECTED ]. The</tspan><tspan x="2193" y="880.4">inspection included a debrief of observations with Project staff on <tspan class="b">[Date is pulled from the calendar]</tspan></tspan><tspan x="2193" y="888">The following requirements were inspected against:</tspan><tspan x="2193" y="891.8">1. [Condition number] with respect to [Topic]</tspan><tspan x="2193" y="895.6">2. [Order number] with respect to Topic</tspan><tspan x="2193" y="899.4">3. .....</tspan><tspan x="2193" y="907">On [DATE PULLED FROM CONTINUATION REPORT], Officer [OFFICER NAME] provided the preliminary</tspan><tspan x="2193" y="910.9">inspection record to the Certificate Holder.</tspan><tspan x="2193" y="914.8" class="b">On [DATE PULLED FROM CONTINUATION REPORT], the Certificate Holder provided comments</tspan><tspan x="2193" y="918.7" class="b">pertaining to the preliminary inspection record. These comments were reviewed by the Environmental</tspan><tspan x="2193" y="922.6" class="b">Assessment Office Compliance and Enforcement Branch (EAO CEB). No errors of fact or omission were</tspan><tspan x="2193" y="926.5" class="b">identified.</tspan><tspan x="2193" y="934.3">Additional detail regarding these findings may be found in the sections below.</tspan><tspan x="2193" y="938.2">The compliance determinations in this report reflect the findings from the inspection dates noted above.</tspan><tspan x="2193" y="942.1">These determinations can change at any time upon information gathered through future inspections or if</tspan><tspan x="2193" y="946">new information is obtained by the EAO CEB.</tspan></text></g>
<g id="ch-t3"><rect class="g" x="2354" y="866" width="120" height="91" rx="1.5"/><text font-size="2.65"><tspan x="2363" y="876.5">The Officer inspected [ ADD BRIEF DESCRIPTION OF PROJECT COMPONENTS/</tspan><tspan x="2363" y="880.4">AREAS INSPECTED ]. The inspection included a debrief of observations with Project</tspan><tspan x="2363" y="884.3">staff on <tspan class="b">[Date is pulled from the calendar]</tspan></tspan><tspan x="2363" y="892">The following requirements were inspected against:</tspan><tspan x="2363" y="895.8">1. [Condition number] with respect to [Topic]</tspan><tspan x="2363" y="899.6">2. [Order number] with respect to Topic</tspan><tspan x="2363" y="903.4">3. .....</tspan><tspan x="2363" y="911">On [DATE PULLED FROM CONTINUATION REPORT], Officer [OFFICER NAME]</tspan><tspan x="2363" y="914.9">provided the preliminary inspection record to the Certificate Holder.</tspan><tspan x="2363" y="918.8" class="b">No comments were received from the Certificate Holder prior to finalizing the</tspan><tspan x="2363" y="922.7" class="b">record.</tspan><tspan x="2363" y="930.5">Additional detail regarding these findings may be found in the sections below.</tspan><tspan x="2363" y="934.4">The compliance determinations in this report reflect the findings from the inspection</tspan><tspan x="2363" y="938.3">dates noted above. These determinations can change at any time upon information</tspan><tspan x="2363" y="942.2">gathered through future inspections or if new information is obtained by the EAO</tspan><tspan x="2363" y="946.1">CEB.</tspan></text></g>
<circle cx="2029" cy="740" r="6.5" fill="#b8bcc4"/>
<rect class="ttl" x="2028" y="738" width="194" height="27" rx="4"/>
<text x="2036" y="759" font-size="17" textLength="179" lengthAdjust="spacingAndGlyphs" fill="#111">Selecting CH Response</text>
</g>
</svg>
